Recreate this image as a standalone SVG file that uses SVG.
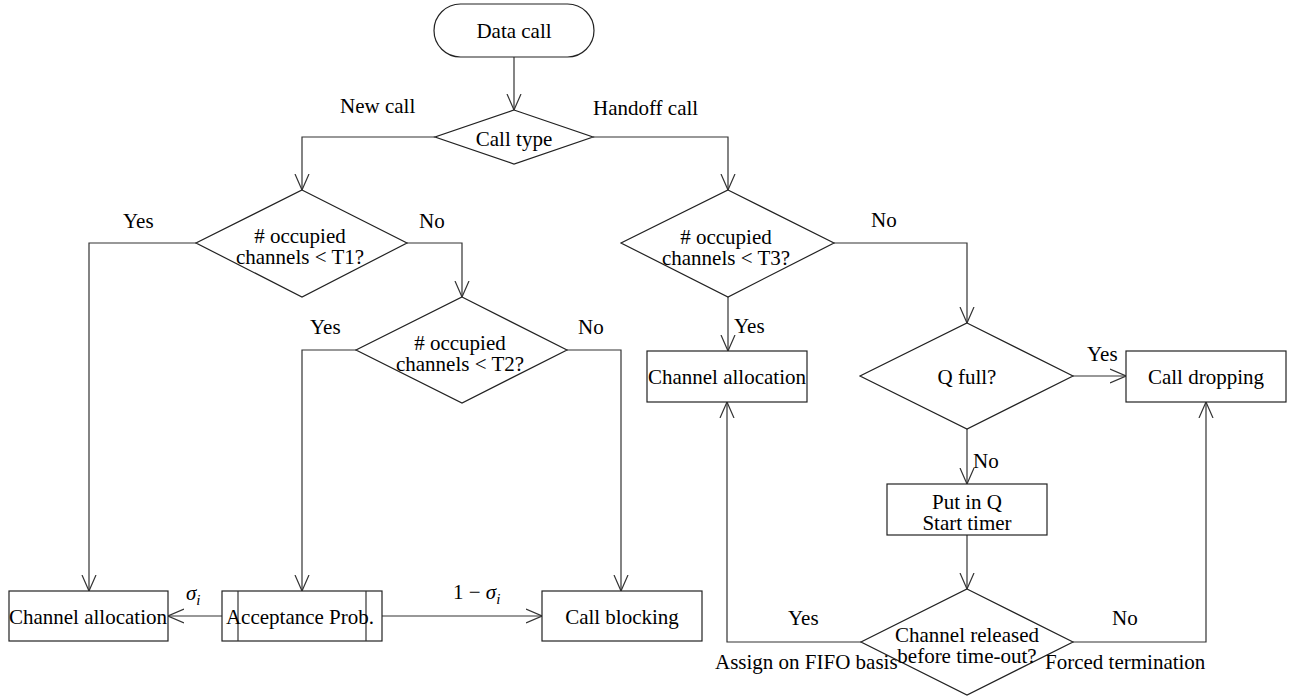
<svg xmlns="http://www.w3.org/2000/svg" width="1302" height="698" viewBox="0 0 1302 698">
<style>
text{font-family:"Liberation Serif","Times New Roman",serif;font-size:21px;fill:#000}
.m{text-anchor:middle}
.s{fill:#fff;stroke:#222;stroke-width:1.2}
.c{fill:none;stroke:#333;stroke-width:1.2}
.math{font-style:italic}
</style>
<defs>
<marker id="a" viewBox="0 0 16 16" refX="16" refY="8" markerWidth="16" markerHeight="16" markerUnits="userSpaceOnUse" orient="auto">
<path d="M0,1 L16,8 L0,15" fill="none" stroke="#333" stroke-width="1.2"/>
</marker>
</defs>
<rect width="1302" height="698" fill="#fff"/>
<g id="connectors">
<polyline class="c" points="514,57 514,110" marker-end="url(#a)"/>
<polyline class="c" points="435,137 302,137 302,190" marker-end="url(#a)"/>
<polyline class="c" points="593,137 728,137 728,190" marker-end="url(#a)"/>
<polyline class="c" points="196,243 89,243 89,591" marker-end="url(#a)"/>
<polyline class="c" points="407,243 462,243 462,297" marker-end="url(#a)"/>
<polyline class="c" points="356,350 302,350 302,591" marker-end="url(#a)"/>
<polyline class="c" points="567,350 621,350 621,591" marker-end="url(#a)"/>
<polyline class="c" points="728,297 728,351" marker-end="url(#a)"/>
<polyline class="c" points="834,243 967,243 967,323" marker-end="url(#a)"/>
<polyline class="c" points="1073,376 1126,376" marker-end="url(#a)"/>
<polyline class="c" points="967,429 967,484" marker-end="url(#a)"/>
<polyline class="c" points="967,535 967,589" marker-end="url(#a)"/>
<polyline class="c" points="861,642 727,642 727,402" marker-end="url(#a)"/>
<polyline class="c" points="1073,642 1206,642 1206,402" marker-end="url(#a)"/>
<polyline class="c" points="222,616 168,616" marker-end="url(#a)"/>
<polyline class="c" points="382,616 542,616" marker-end="url(#a)"/>
<text x="340" y="113">New call</text>
<text x="593" y="115">Handoff call</text>
<text x="123" y="228">Yes</text>
<text x="419" y="228">No</text>
<text x="310" y="334">Yes</text>
<text x="578" y="334">No</text>
<text x="871" y="227">No</text>
<text x="734" y="333">Yes</text>
<text x="1087" y="361">Yes</text>
<text x="973" y="468">No</text>
<text x="788" y="625">Yes</text>
<text x="1112" y="625">No</text>
<text x="715" y="669">Assign on FIFO basis</text>
<text x="1045" y="669">Forced termination</text>
<text x="186" y="600"><tspan class="math">σ</tspan><tspan class="math" font-size="15" dy="5">i</tspan></text>
<text x="453" y="599">1 − <tspan class="math">σ</tspan><tspan class="math" font-size="15" dy="5">i</tspan></text>
</g>
<g id="data-call">
<rect class="s" x="434" y="4" width="160" height="53" rx="26.5"/>
<text class="m" x="514" y="38">Data call</text>
</g>
<g id="call-type">
<polygon class="s" points="514,110 593,137 514,164 435,137"/>
<text class="m" x="514" y="146">Call type</text>
</g>
<g id="t1">
<polygon class="s" points="302,190 407,243 302,297 196,243"/>
<text class="m" x="300" y="243"># occupied<tspan x="300" dy="21">channels &lt; T1?</tspan></text>
</g>
<g id="t2">
<polygon class="s" points="462,297 567,350 462,403 356,350"/>
<text class="m" x="460" y="350"># occupied<tspan x="460" dy="21">channels &lt; T2?</tspan></text>
</g>
<g id="t3">
<polygon class="s" points="728,190 834,243 728,297 621,243"/>
<text class="m" x="726" y="244"># occupied<tspan x="726" dy="21">channels &lt; T3?</tspan></text>
</g>
<g id="channel-allocation-right">
<rect class="s" x="647" y="351" width="160" height="51"/>
<text class="m" x="727" y="384">Channel allocation</text>
</g>
<g id="q-full">
<polygon class="s" points="967,323 1073,376 967,429 860,376"/>
<text class="m" x="967" y="384">Q full?</text>
</g>
<g id="call-dropping">
<rect class="s" x="1126" y="351" width="160" height="51"/>
<text class="m" x="1206" y="384">Call dropping</text>
</g>
<g id="put-in-q">
<rect class="s" x="887" y="484" width="160" height="51"/>
<text class="m" x="967" y="509">Put in Q<tspan x="967" dy="21">Start timer</tspan></text>
</g>
<g id="channel-released">
<polygon class="s" points="967,589 1073,642 967,695 861,642"/>
<text class="m" x="967" y="642">Channel released<tspan x="967" dy="21">before time-out?</tspan></text>
</g>
<g id="channel-allocation-left">
<rect class="s" x="9" y="591" width="159" height="50"/>
<text class="m" x="88" y="624">Channel allocation</text>
</g>
<g id="acceptance-prob">
<rect class="s" x="222" y="591" width="160" height="50"/>
<line class="c" x1="238" y1="591" x2="238" y2="641"/>
<line class="c" x1="366" y1="591" x2="366" y2="641"/>
<text class="m" x="300" y="624">Acceptance Prob.</text>
</g>
<g id="call-blocking">
<rect class="s" x="542" y="591" width="160" height="50"/>
<text class="m" x="622" y="624">Call blocking</text>
</g>
</svg>
